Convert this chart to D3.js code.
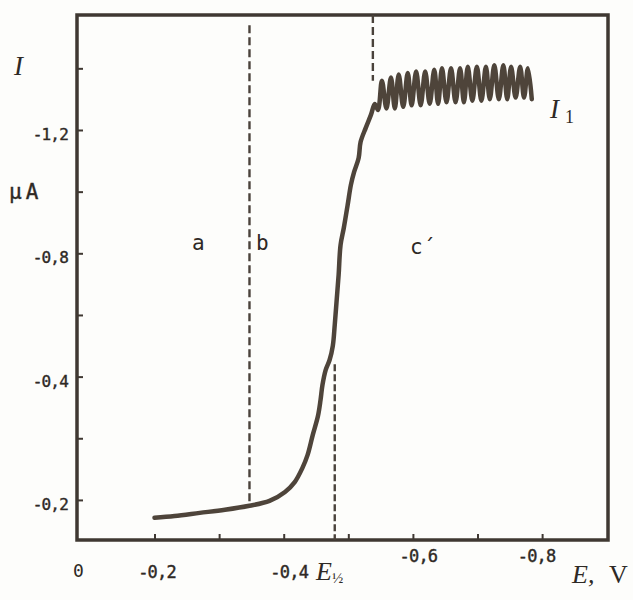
<!DOCTYPE html>
<html>
<head>
<meta charset="utf-8">
<script src="https://cdn.jsdelivr.net/npm/d3@7"></script>
<style>
  body { margin: 0; background: #fdfdfb; }
  svg { display: block; }
</style>
</head>
<body>
<div id="chart"></div>
<script>
var riseE = [-0.200, -0.231, -0.270, -0.309, -0.347, -0.378, -0.402, -0.417, -0.429, -0.437,
             -0.445, -0.453, -0.457, -0.460, -0.465, -0.471, -0.476, -0.479, -0.482, -0.485,
             -0.488, -0.493, -0.499, -0.504, -0.509, -0.516, -0.519, -0.527, -0.535, -0.541]
var riseI = [0.058, 0.052, 0.042, 0.032, 0.019, 0.003, -0.026, -0.058, -0.104, -0.146,
             -0.211, -0.272, -0.324, -0.373, -0.422, -0.454, -0.500, -0.568, -0.649, -0.730,
             -0.827, -0.882, -0.957, -1.022, -1.064, -1.109, -1.161, -1.207, -1.249, -1.284]

// oscilaciones de la gota (limite I1)
var peakE = [-0.552, -0.566, -0.578, -0.592, -0.605, -0.619, -0.633, -0.645, -0.659,
             -0.673, -0.685, -0.699, -0.713, -0.726, -0.740, -0.752, -0.766, -0.778]
var peakI = [-1.36, -1.37, -1.38, -1.385, -1.39, -1.39, -1.395, -1.40, -1.40,
             -1.40, -1.405, -1.405, -1.405, -1.41, -1.41, -1.405, -1.405, -1.40]
var troughE = [-0.546, -0.559, -0.572, -0.585, -0.598, -0.612, -0.626, -0.639, -0.652, -0.666,
               -0.679, -0.692, -0.706, -0.719, -0.733, -0.746, -0.759, -0.772, -0.784]
var troughI = [-1.265, -1.27, -1.27, -1.275, -1.28, -1.28, -1.285, -1.285, -1.29, -1.29,
               -1.29, -1.295, -1.295, -1.30, -1.30, -1.30, -1.305, -1.305, -1.30]

// lineas verticales (a | b | c) y E1/2
var zoneE = [-0.347, -0.538]
var halfE = -0.479

// ticks
var xMinor = [-0.2, -0.3, -0.4, -0.5, -0.6, -0.7, -0.8]
var xTickValues = [-0.2, -0.4, -0.6, -0.8]
var xTickLabels = ['-0,2', '-0,4', '-0,6', '-0,8']
var yMinor = [0, -0.2, -0.4, -0.6, -0.8, -1.0, -1.2, -1.4]
var yTickValues = [0, -0.4, -0.8, -1.2]
var yTickLabels = ['-0,2', '-0,4', '-0,8', '-1,2']

var w = 633
var h = 600
var ink = '#3f3832'
var txt = '#2e2925'
var serif = 'Liberation Serif, DejaVu Serif, serif'
var mono = 'DejaVu Sans Mono, Liberation Mono, monospace'

var svg = d3.select('#chart')
    .append('svg')
    .attr('width', w)
    .attr('height', h)

var x = d3.scaleLinear().domain([-0.08, -0.902]).range([77, 608])
var y = d3.scaleLinear().domain([0.13, -1.573]).range([540, 15])

var plotL = x.range()[0], plotR = x.range()[1]
var plotT = y.range()[1], plotB = y.range()[0]

//ejes con ticks hacia dentro
var yAxis = d3.axisLeft(y)
    .tickValues(yMinor)
    .tickSize(-6)
    .tickPadding(9)
    .tickFormat(function(d){
        var i = yTickValues.findIndex(function(v){ return Math.abs(v - d) < 1e-6 })
        return i < 0 ? '' : yTickLabels[i]
    })

var xAxis = d3.axisBottom(x)
    .tickValues(xMinor)
    .tickSize(-6)
    .tickPadding(18)
    .tickFormat(function(d){
        var i = xTickValues.findIndex(function(v){ return Math.abs(v - d) < 1e-6 })
        return i < 0 ? '' : xTickLabels[i]
    })

var gy = svg.append('g')
    .attr('transform', 'translate(' + plotL + ',0)')
    .call(yAxis)
gy.select('.domain').remove()
gy.selectAll('line').attr('stroke', ink).attr('stroke-width', 2)
gy.selectAll('text')
    .attr('font-family', mono)
    .attr('font-size', '16px')
    .attr('fill', txt)
    .attr('stroke', txt).attr('stroke-width', 0.4)
    .attr('dy', '0.6em')
    .attr('letter-spacing', '-0.8px')

var gx = svg.append('g')
    .attr('transform', 'translate(0,' + plotB + ')')
    .call(xAxis)
gx.select('.domain').remove()
gx.selectAll('line').attr('stroke', ink).attr('stroke-width', 2)
gx.selectAll('text')
    .attr('font-family', mono)
    .attr('font-size', '17px')
    .attr('fill', txt)
    .attr('stroke', txt).attr('stroke-width', 0.4)
    .attr('letter-spacing', '-0.8px')
    .attr('dy', function(d){ return d < -0.5 ? '0.25em' : '1.15em' })
    .attr('dx', function(d){ return d < -0.7 ? '-6px' : (d > -0.3 ? '2px' : '5px') })

//marco
svg.append('rect')
    .attr('x', plotL)
    .attr('y', plotT)
    .attr('width', plotR - plotL)
    .attr('height', plotB - plotT)
    .attr('fill', 'none')
    .attr('stroke', ink)
    .attr('stroke-width', 3.5)

//lineas discontinuas
var dashes = svg.append('g')
    .attr('stroke', '#4a423b')
    .attr('stroke-width', 2.4)
    .attr('stroke-dasharray', '8,4')

dashes.append('line')
    .attr('x1', x(zoneE[0])).attr('x2', x(zoneE[0]))
    .attr('y1', y(-1.54)).attr('y2', y(0.022))
dashes.append('line')
    .attr('x1', x(zoneE[1])).attr('x2', x(zoneE[1]))
    .attr('y1', plotT).attr('y2', y(-1.36))
dashes.append('line')
    .attr('x1', x(halfE)).attr('x2', x(halfE))
    .attr('y1', y(-0.44)).attr('y2', plotB)
    .attr('stroke-dasharray', '7,3')

//curva
var pts = riseE.map(function(e, i){ return [e, riseI[i]] })
troughE.forEach(function(e, i){
    pts.push([e, troughI[i]])
    if (i < peakE.length) pts.push([peakE[i], peakI[i]])
})

var line = d3.line()
    .x(function(d){ return x(d[0]) })
    .y(function(d){ return y(d[1]) })
    .curve(d3.curveCatmullRom.alpha(0.5))

svg.append('path')
    .datum(pts)
    .attr('d', line)
    .attr('fill', 'none')
    .attr('stroke', '#4e443a')
    .attr('stroke-width', 4.5)
    .attr('stroke-linejoin', 'round')
    .attr('stroke-linecap', 'round')

//textos
svg.append('text').attr('x', 14).attr('y', 75)
    .attr('font-family', serif).attr('font-style', 'italic')
    .attr('font-size', '27px').attr('fill', txt).text('I')
svg.append('text').attr('x', 9).attr('y', 199)
    .attr('font-family', mono).attr('font-size', '21px')
    .attr('stroke', txt).attr('stroke-width', 0.4)
    .attr('letter-spacing', '4px')
    .attr('fill', txt).text('µA')

svg.append('text').attr('x', 192).attr('y', 250)
    .attr('font-family', mono).attr('font-size', '21px').attr('fill', txt).text('a')
svg.append('text').attr('x', 256).attr('y', 250)
    .attr('font-family', mono).attr('font-size', '21px').attr('fill', txt).text('b')
svg.append('text').attr('x', 410).attr('y', 254)
    .attr('font-family', mono).attr('font-size', '21px').attr('fill', txt).text('c´')

var i1 = svg.append('text').attr('x', 550).attr('y', 118)
    .attr('font-family', serif).attr('font-style', 'italic')
    .attr('font-size', '27px').attr('fill', txt)
i1.append('tspan').text('I')
i1.append('tspan').attr('dx', 6).attr('dy', 5)
    .attr('font-style', 'normal').attr('font-size', '18px').text('1')

svg.append('text').attr('x', 73).attr('y', 577)
    .attr('font-family', mono).attr('font-size', '18px').attr('fill', txt).text('0')

var eh = svg.append('text').attr('x', 316).attr('y', 580)
    .attr('font-family', serif).attr('font-style', 'italic')
    .attr('font-size', '26px').attr('fill', txt)
eh.append('tspan').text('E')
eh.append('tspan').attr('dy', 3).attr('font-size', '15px').attr('font-style', 'normal').text('½')

svg.append('text').attr('x', 572).attr('y', 583)
    .attr('font-family', serif).attr('font-style', 'italic')
    .attr('font-size', '26px').attr('fill', txt).text('E,')
svg.append('text').attr('x', 609).attr('y', 583)
    .attr('font-family', serif)
    .attr('font-size', '26px').attr('fill', txt).text('V')
</script>
</body>
</html>
